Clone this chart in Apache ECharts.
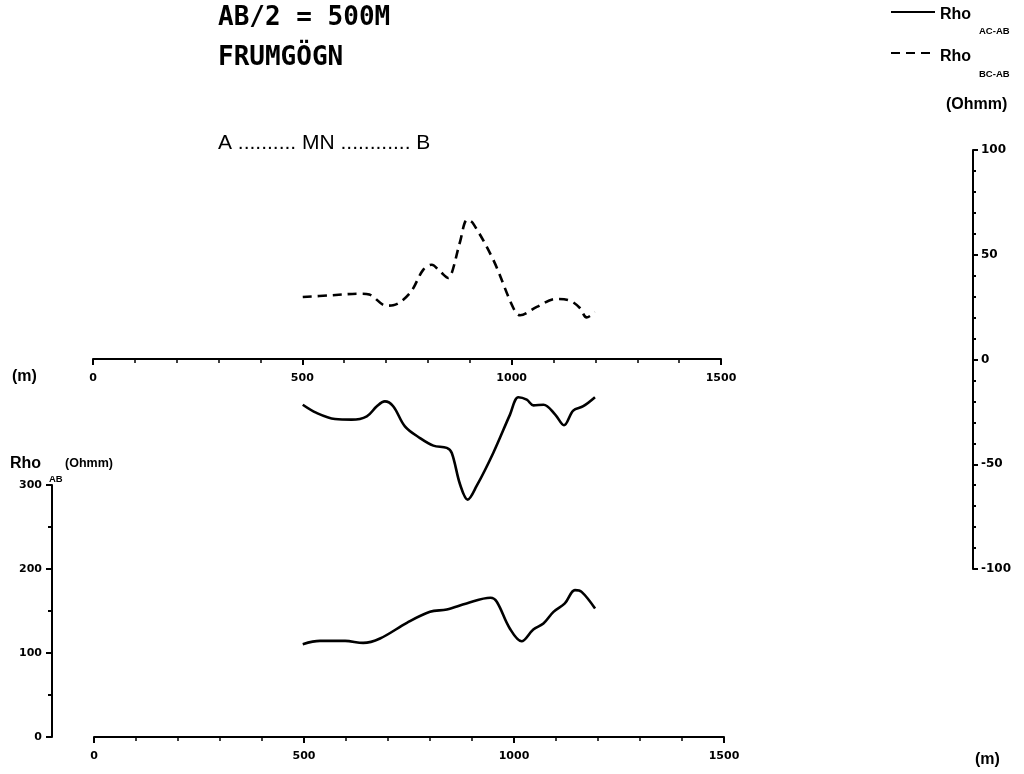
<!DOCTYPE html>
<html><head><meta charset="utf-8">
<script src="https://cdn.jsdelivr.net/npm/echarts@6/dist/echarts.min.js"></script>
<style>html,body{margin:0;padding:0;background:#fff}#c{width:1024px;height:774px}</style>
</head><body><div id="c"></div>
<script>
// Rho BC-AB (dashed), right axis (Ohmm)
var bcX = [501, 566, 638, 660, 701, 717, 757, 789, 809, 829, 849, 857, 877, 894, 907, 956, 1004, 1020, 1060, 1107, 1139, 1163, 1179, 1199];
var bcY = [29.8, 30.6, 31.4, 31, 25.7, 25.9, 31.7, 42.9, 45.2, 42, 38.9, 41.3, 56.4, 66.7, 65.2, 47.6, 24.6, 21.1, 25.1, 28.9, 28.1, 24.6, 20.1, 22.5];
// Rho AC-AB (solid), right axis (Ohmm)
var acX = [501, 534, 578, 618, 654, 678, 697, 717, 745, 781, 813, 845, 857, 877, 895, 916, 956, 996, 1016, 1036, 1052, 1076, 1104, 1125, 1147, 1171, 1199];
var acY = [-21.6, -25.5, -28.4, -28.7, -27.1, -22.3, -20, -22.3, -31.9, -37.5, -41.1, -42.2, -44.6, -59.8, -66.9, -60.5, -44.6, -26.3, -18, -19.2, -21.9, -21.6, -26.3, -31.4, -24.4, -22.3, -18];
// Rho AB (solid), left axis (Ohmm)
var abX = [497, 538, 598, 641, 681, 745, 800, 840, 887, 944, 959, 990, 1018, 1046, 1070, 1094, 1121, 1145, 1161, 1193];
var abY = [110.5, 114.4, 114.4, 112, 117.3, 135.9, 149, 151.8, 159, 165.7, 161, 129.2, 114, 128, 135.2, 149, 159, 174.8, 172.8, 153];
var xTicks = [0, 500, 1000, 1500];

function pairs(xs, ys){ return xs.map(function(x,i){ return [x, ys[i]]; }); }

function lbl(size){ return {fontFamily:'DejaVu Sans', fontWeight:'bold', fontSize:size, color:'#000'}; }
function xAx(gi, visible){
  return {gridIndex:gi, type:'value', min:0, max:1500, interval:500, show:visible,
    axisLine:{show:true, onZero:false, lineStyle:{color:'#000', width:2}},
    axisTick:{show:true, length:6, lineStyle:{color:'#000', width:2}},
    minorTick:{show:true, splitNumber:5, length:4, lineStyle:{color:'#000', width:1.5}},
    axisLabel:Object.assign({margin:14, formatter:function(v){return xTicks.indexOf(v)>=0?String(v):'';}}, lbl(11)),
    splitLine:{show:false}, minorSplitLine:{show:false}};
}

var chart = echarts.init(document.getElementById('c'), null, {renderer:'canvas'});
chart.setOption({
  animation:false,
  backgroundColor:'#fff',
  grid:[
    {left:93, right:303, top:150, bottom:205, outerBoundsMode:'none', containLabel:false},
    {left:94, right:300, top:485, bottom:37, outerBoundsMode:'none', containLabel:false},
    {left:93, right:303, top:150, bottom:415, outerBoundsMode:'none', containLabel:false},
    {left:973, right:11, top:150, bottom:205, outerBoundsMode:'none', containLabel:false}
  ],
  xAxis:[xAx(0, false), xAx(1, true), xAx(2, true), xAx(3, false)],
  yAxis:[
    {gridIndex:0, type:'value', show:false, min:-100, max:100},
    {gridIndex:1, type:'value', position:'left', offset:42, min:0, max:300, interval:100,
      axisLine:{show:true, onZero:false, lineStyle:{color:'#000', width:2}},
      axisTick:{show:true, length:6, lineStyle:{color:'#000', width:2}},
      minorTick:{show:true, splitNumber:2, length:4, lineStyle:{color:'#000', width:2}},
      axisLabel:Object.assign({margin:10}, lbl(11)),
      splitLine:{show:false}},
    {gridIndex:2, type:'value', show:false, min:0, max:100},
    {gridIndex:3, type:'value', position:'left', min:-100, max:100, interval:50,
      axisLine:{show:true, onZero:false, lineStyle:{color:'#000', width:2}},
      axisTick:{show:true, inside:true, length:5, lineStyle:{color:'#000', width:2}},
      minorTick:{show:true, splitNumber:5, length:3, lineStyle:{color:'#000', width:2}},
      axisLabel:Object.assign({inside:true, margin:8}, lbl(12)),
      splitLine:{show:false}}
  ],
  series:[
    {type:'line', xAxisIndex:0, yAxisIndex:0, data:pairs(bcX, bcY), smooth:0.35, showSymbol:false,
      lineStyle:{color:'#000', width:2.6, type:[9,6]}},
    {type:'line', xAxisIndex:0, yAxisIndex:0, data:pairs(acX, acY), smooth:0.35, showSymbol:false,
      lineStyle:{color:'#000', width:2.6}},
    {type:'line', xAxisIndex:1, yAxisIndex:1, data:pairs(abX, abY), smooth:0.35, showSymbol:false,
      lineStyle:{color:'#000', width:2.6}}
  ],
  graphic:[
    {type:'text', left:218, top:5, style:{text:'AB/2 = 500M', font:'bold 26px "DejaVu Sans Mono"', fill:'#000'}},
    {type:'text', left:218, top:45, style:{text:'FRUMGÖGN', font:'bold 26px "DejaVu Sans Mono"', fill:'#000'}},
    {type:'text', left:218, top:133, style:{text:'A .......... MN ............ B', font:'21px "Liberation Sans"', fill:'#000'}},
    // legend
    {type:'line', shape:{x1:891, y1:12, x2:935, y2:12}, style:{stroke:'#000', lineWidth:2.2}},
    {type:'text', x:940, y:15, style:{text:'Rho', font:'bold 16px "Liberation Sans"', fill:'#000', verticalAlign:'middle'}},
    {type:'text', x:979, y:31, style:{text:'AC-AB', font:'bold 9.5px "Liberation Sans"', fill:'#000', verticalAlign:'middle'}},
    {type:'line', shape:{x1:891, y1:53, x2:935, y2:53}, style:{stroke:'#000', lineWidth:2.2, lineDash:[9,6]}},
    {type:'text', x:940, y:56.5, style:{text:'Rho', font:'bold 16px "Liberation Sans"', fill:'#000', verticalAlign:'middle'}},
    {type:'text', x:979, y:74.5, style:{text:'BC-AB', font:'bold 9.5px "Liberation Sans"', fill:'#000', verticalAlign:'middle'}},
    {type:'text', x:946, y:105, style:{text:'(Ohmm)', font:'bold 16px "Liberation Sans"', fill:'#000', verticalAlign:'middle'}},
    // axis captions
    {type:'text', x:12, y:377, style:{text:'(m)', font:'bold 16px "Liberation Sans"', fill:'#000', verticalAlign:'middle'}},
    {type:'text', x:975, y:760, style:{text:'(m)', font:'bold 16px "Liberation Sans"', fill:'#000', verticalAlign:'middle'}},
    {type:'text', x:10, y:464, style:{text:'Rho', font:'bold 16px "Liberation Sans"', fill:'#000', verticalAlign:'middle'}},
    {type:'text', x:49, y:479, style:{text:'AB', font:'bold 9.5px "Liberation Sans"', fill:'#000', verticalAlign:'middle'}},
    {type:'text', x:65, y:464, style:{text:'(Ohmm)', font:'bold 12.5px "Liberation Sans"', fill:'#000', verticalAlign:'middle'}}
  ]
});
</script></body></html>
